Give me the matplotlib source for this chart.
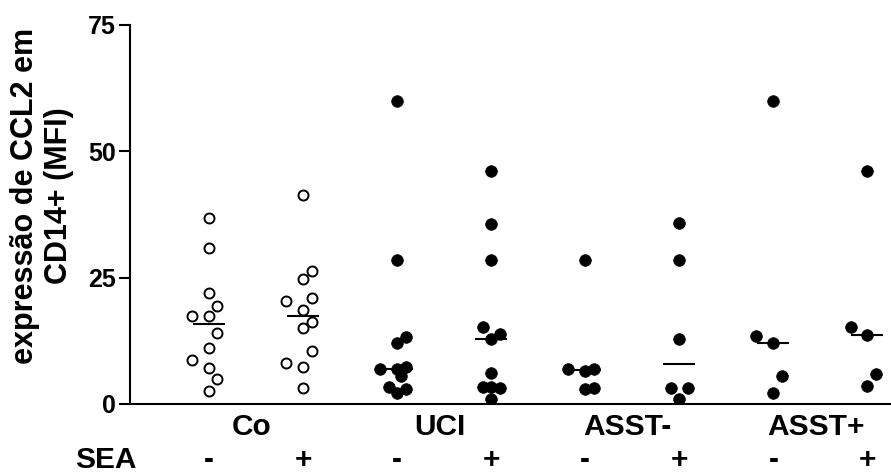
import numpy as np
from matplotlib import pyplot as plt
from matplotlib import transforms

plt.rcParams['font.family'] = ['Liberation Sans', 'DejaVu Sans']
plt.rcParams['font.weight'] = 'bold'

# values (MFI), one list per column
co_neg = [36.8, 30.8, 21.9, 19.4, 17.5, 17.5, 14.1, 11.0, 8.8, 7.1, 4.9, 2.6]
co_pos = [41.3, 26.3, 24.8, 20.4, 20.9, 18.6, 16.3, 15.0, 10.5, 8.2, 7.4, 3.2]
uci_neg = [60.0, 28.5, 13.3, 12.1, 6.9, 6.9, 7.3, 5.5, 3.3, 2.9, 2.1]
uci_pos = [46.2, 35.7, 28.5, 15.2, 13.8, 12.8, 6.1, 3.3, 3.4, 3.1, 0.9]
asstn_neg = [28.5, 6.9, 6.6, 7.0, 2.9, 3.1]
asstn_pos = [35.8, 28.5, 12.8, 3.1, 3.1, 0.9]
asstp_neg = [60.0, 13.4, 12.1, 5.5, 2.2]
asstp_pos = [46.2, 15.2, 13.6, 5.9, 3.6]

# horizontal slot of each point (scatter spread), same order as the values
co_neg_slot = [0, 0, 0, 1, -2, 0, 1, 0, -2, 0, 1, 0]
co_pos_slot = [0, 1, 0, -2, 1, 0, 1, 0, 1, -2, 0, 0]
uci_neg_slot = [0, 0, 1, 0, -2, 0, 1, 0.4, -1, 1, 0]
uci_pos_slot = [0, 0, 0, -1, 1, 0, 0, -1, 0, 1, 0]
asstn_neg_slot = [0, -2, 0, 1, 0, 1]
asstn_pos_slot = [0, 0, 0, -1, 1, 0]
asstp_neg_slot = [0, -2, 0, 1, 0]
asstp_pos_slot = [0, -2, 0, 1, 0]

columns = [co_neg, co_pos, uci_neg, uci_pos, asstn_neg, asstn_pos, asstp_neg, asstp_pos]
slots = [co_neg_slot, co_pos_slot, uci_neg_slot, uci_pos_slot,
         asstn_neg_slot, asstn_pos_slot, asstp_neg_slot, asstp_pos_slot]
open_marker = [True, True, False, False, False, False, False, False]
sea_labels = ['-', '+', '-', '+', '-', '+', '-', '+']
group_names = ['Co', 'UCI', 'ASST-', 'ASST+']

fig = plt.figure(figsize=(8.91, 4.74), dpi=100)
ax = fig.add_axes([0.1459, 0.1477, 0.8541, 0.7996])

slot_w = 0.09
for i, (vals, sl) in enumerate(zip(columns, slots)):
    x = i + slot_w * np.array(sl)
    if open_marker[i]:
        ax.plot(x, vals, 'o', ms=7.2, mfc='white', mec='black', mew=1.4, ls='none', zorder=3)
    else:
        ax.plot(x, vals, 'o', ms=8.4, mfc='black', mec='black', mew=0.5, ls='none', zorder=3)
    med = np.median(vals)
    ax.hlines(med, i - 0.17, i + 0.17, color='black', lw=1.5, zorder=2)

ax.set_xlim(-0.84, 7.25)
ax.set_ylim(0, 75)
ax.set_yticks([0, 25, 50, 75])
ax.tick_params(axis='y', labelsize=18, length=8, width=1.5, pad=2)
ax.set_xticks([])
for lab in ax.get_yticklabels():
    lab.set_fontweight('bold')
ax.spines['top'].set_visible(False)
ax.spines['right'].set_visible(False)
ax.spines['left'].set_linewidth(1.5)
ax.spines['bottom'].set_linewidth(1.5)

# labels under the axis
trans = transforms.blended_transform_factory(ax.transData, fig.transFigure)
for i, s in enumerate(sea_labels):
    ax.text(i, 0.013, s, transform=trans, ha='center', va='baseline',
            fontsize=21.5, fontweight='bold')
for g, name in enumerate(group_names):
    ax.text(2 * g + 0.45, 0.083, name, transform=trans, ha='center', va='baseline',
            fontsize=21.5, fontweight='bold')
fig.text(137 / 891, 0.013, 'SEA', ha='right', va='baseline', fontsize=21.5, fontweight='bold')

fig.text(0.047, 0.5865, 'expressão de CCL2 em\nCD14+ (MFI)', rotation=90,
         ha='center', va='center', multialignment='center', fontsize=22, fontweight='bold')

fig.savefig('out.png', dpi=100)
